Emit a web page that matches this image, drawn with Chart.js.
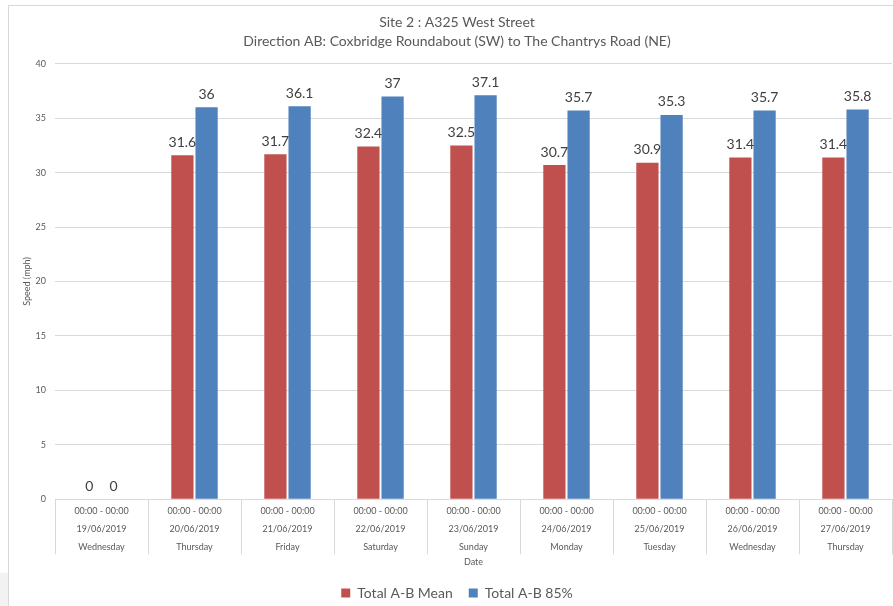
<!DOCTYPE html>
<html>
<head>
<meta charset="utf-8">
<script src="https://cdn.jsdelivr.net/npm/chart.js@4/dist/chart.umd.min.js"></script>
<style>
  html, body { margin: 0; padding: 0; background: #ffffff; }
  #wrap { position: relative; width: 893px; height: 606px; overflow: hidden; }
  #frame { position: absolute; left: 8px; top: 5px; width: 900px; height: 620px;
           border-left: 1px solid #d9d9d9; border-top: 1px solid #d9d9d9; }
  #corner { position: absolute; left: 0; top: 573px; width: 8px; height: 40px; background: #f2f2f2; }
  canvas { position: absolute; left: 0; top: 0; }
</style>
</head>
<body>
<div id="wrap">
  <div id="corner"></div>
  <div id="frame"></div>
  <canvas id="c" width="893" height="606"></canvas>
</div>
<script>
// Survey periods, dates and weekdays for each column
const timeRanges = ["00:00 - 00:00", "00:00 - 00:00", "00:00 - 00:00", "00:00 - 00:00", "00:00 - 00:00",
                    "00:00 - 00:00", "00:00 - 00:00", "00:00 - 00:00", "00:00 - 00:00"];
const dates = ["19/06/2019", "20/06/2019", "21/06/2019", "22/06/2019", "23/06/2019",
               "24/06/2019", "25/06/2019", "26/06/2019", "27/06/2019"];
const weekdays = ["Wednesday", "Thursday", "Friday", "Saturday", "Sunday",
                  "Monday", "Tuesday", "Wednesday", "Thursday"];

// Speeds in mph
const meanSpeed = [0, 31.6, 31.7, 32.4, 32.5, 30.7, 30.9, 31.4, 31.4];
const speed85 = [0, 36, 36.1, 37, 37.1, 35.7, 35.3, 35.7, 35.8];

const yTicks = [0, 5, 10, 15, 20, 25, 30, 35, 40];

const FONT = "Lato, 'Open Sans', sans-serif";
const GREY = '#d9d9d9';
const TEXT = '#595959';

// Multi-level category labels
const labels = dates.map((d, i) => [timeRanges[i], d, weekdays[i]]);

// Value labels above each bar
const valueLabels = {
  id: 'valueLabels',
  afterDatasetsDraw(chart) {
    const ctx = chart.ctx;
    ctx.save();
    ctx.font = '14px ' + FONT;
    ctx.fillStyle = '#404040';
    ctx.textAlign = 'center';
    ctx.textBaseline = 'bottom';
    chart.data.datasets.forEach((ds, di) => {
      chart.getDatasetMeta(di).data.forEach((bar, i) => {
        ctx.fillText(String(ds.data[i]), bar.x, bar.y - 6);
      });
    });
    ctx.restore();
  }
};

// Separators between the category label groups
const categoryDividers = {
  id: 'categoryDividers',
  afterDraw(chart) {
    const x = chart.scales.x;
    const ctx = chart.ctx;
    const n = chart.data.labels.length;
    const half = (x.getPixelForValue(1) - x.getPixelForValue(0)) / 2;
    ctx.save();
    ctx.strokeStyle = GREY;
    ctx.lineWidth = 1;
    ctx.beginPath();
    for (let i = 0; i <= n; i++) {
      const px = Math.round(x.getPixelForValue(i) - half) + 0.5;
      ctx.moveTo(px, x.top);
      ctx.lineTo(px, x.top + 55);
    }
    ctx.stroke();
    ctx.restore();
  }
};

new Chart(document.getElementById('c'), {
  type: 'bar',
  data: {
    labels: labels,
    datasets: [
      { label: 'Total A-B Mean', data: meanSpeed, backgroundColor: '#C0504D',
        categoryPercentage: 0.52, barPercentage: 0.92 },
      { label: 'Total A-B 85%', data: speed85, backgroundColor: '#4F81BD',
        categoryPercentage: 0.52, barPercentage: 0.92 }
    ]
  },
  options: {
    responsive: false,
    animation: false,
    devicePixelRatio: 1,
    layout: { padding: { left: 22, right: 1, top: 13, bottom: -4 } },
    plugins: {
      title: {
        display: true,
        text: ['Site 2 : A325 West Street', 'Direction AB: Coxbridge Roundabout (SW) to The Chantrys Road (NE)'],
        color: TEXT,
        font: { family: FONT, size: 14, weight: 'normal', lineHeight: 1.35 },
        padding: { top: 0, bottom: 13 }
      },
      legend: {
        position: 'bottom',
        labels: {
          color: TEXT,
          font: { family: FONT, size: 14 },
          boxWidth: 9, boxHeight: 9,
          padding: 16
        }
      },
      tooltip: { enabled: false }
    },
    scales: {
      x: {
        grid: { display: false, drawTicks: false },
        border: { color: GREY },
        ticks: {
          color: TEXT,
          font: { family: FONT, size: 9, lineHeight: 2 },
          padding: 3,
          maxRotation: 0,
          autoSkip: false
        },
        title: {
          display: true, text: 'Date', color: TEXT,
          font: { family: FONT, size: 9 }, padding: { top: -3, bottom: 3 }
        }
      },
      y: {
        min: 0, max: 40,
        afterBuildTicks(scale) { scale.ticks = yTicks.map(v => ({ value: v })); },
        afterFit(scale) { scale.width = 33; },
        grid: { color: GREY, drawTicks: false },
        border: { display: false },
        ticks: { color: TEXT, font: { family: FONT, size: 9 }, padding: 9 },
        title: {
          display: true, text: 'Speed (mph)', color: TEXT,
          font: { family: FONT, size: 9 }, padding: { top: 0, bottom: 3 }
        }
      }
    }
  },
  plugins: [valueLabels, categoryDividers]
});
</script>
</body>
</html>
